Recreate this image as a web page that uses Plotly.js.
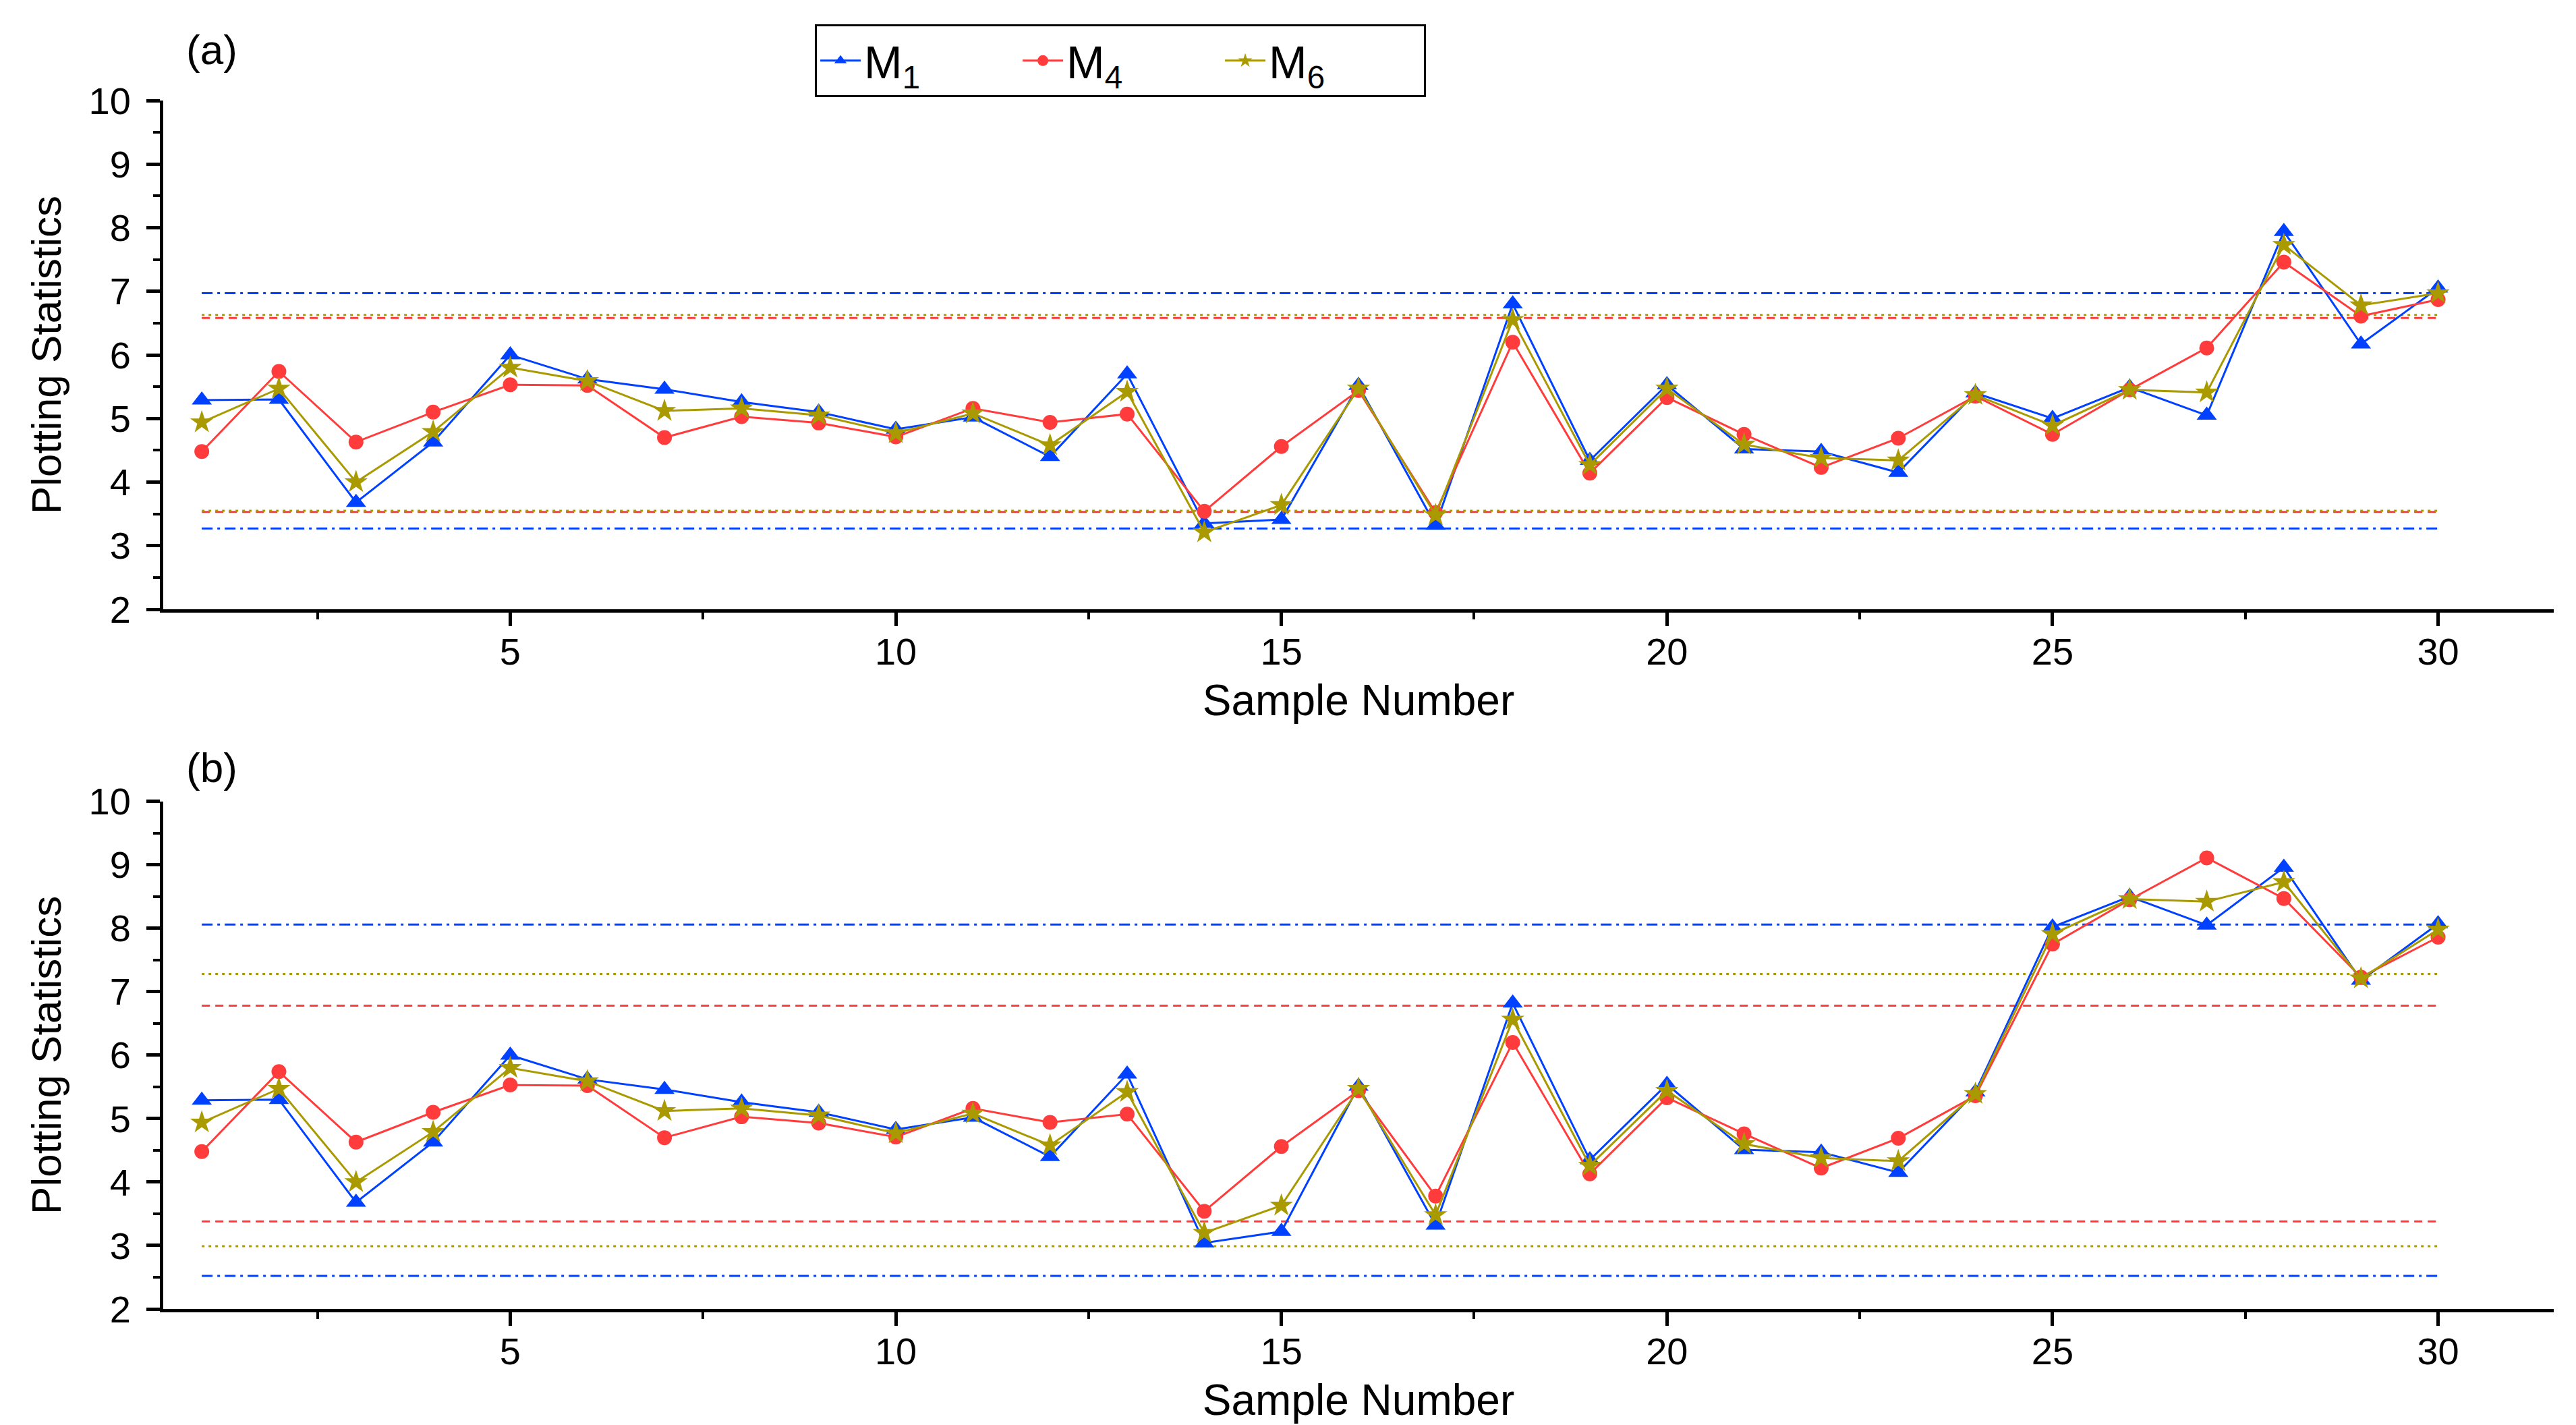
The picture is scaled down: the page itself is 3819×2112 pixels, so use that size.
<!DOCTYPE html>
<html>
<head>
<meta charset="utf-8">
<script src="https://cdn.plot.ly/plotly-3.0.1.min.js"></script>
<style>
  html, body { margin: 0; padding: 0; background: #fff; }
  #chart { width: 3819px; height: 2112px; }
</style>
</head>
<body>
<div id="chart"></div>
<script>
// sample numbers
const samples = [1,2,3,4,5,6,7,8,9,10,11,12,13,14,15,16,17,18,19,20,21,22,23,24,25,26,27,28,29,30];

// panel (a)
const m1A = [5.29,5.30,3.68,4.63,6.00,5.62,5.46,5.26,5.10,4.83,5.02,4.40,5.70,3.35,3.41,5.52,3.32,6.80,4.34,5.53,4.52,4.48,4.15,5.40,5.00,5.49,5.05,7.94,6.17,7.05];
const m4A = [4.48,5.74,4.63,5.10,5.53,5.52,4.70,5.03,4.93,4.71,5.16,4.94,5.07,3.54,4.56,5.44,3.52,6.20,4.14,5.33,4.75,4.23,4.69,5.35,4.75,5.45,6.11,7.46,6.61,6.87];
const m6A = [4.94,5.47,4.00,4.79,5.80,5.59,5.12,5.16,5.05,4.77,5.08,4.58,5.42,3.21,3.64,5.47,3.48,6.55,4.27,5.47,4.59,4.38,4.34,5.37,4.89,5.45,5.41,7.73,6.78,6.97];

// panel (b)
const m1B = [5.29,5.30,3.68,4.63,6.00,5.62,5.46,5.26,5.10,4.83,5.02,4.40,5.70,3.04,3.22,5.51,3.32,6.82,4.35,5.54,4.51,4.47,4.15,5.42,8.02,8.50,8.05,8.96,7.18,8.07];
const m4B = [4.48,5.74,4.63,5.10,5.53,5.52,4.70,5.03,4.93,4.71,5.16,4.94,5.07,3.54,4.56,5.44,3.78,6.20,4.13,5.33,4.76,4.22,4.69,5.36,7.75,8.45,9.11,8.47,7.23,7.86];
const m6B = [4.94,5.47,4.00,4.79,5.80,5.59,5.12,5.16,5.05,4.77,5.08,4.58,5.42,3.20,3.63,5.47,3.48,6.56,4.26,5.44,4.60,4.38,4.33,5.39,7.91,8.46,8.42,8.73,7.21,7.98];

// control limits, order M1, M4, M6
const limitX = [1, 30];
const lclA = [3.27, 3.53, 3.55];
const uclA = [6.97, 6.58, 6.63];
const lclB = [2.52, 3.38, 2.99];
const uclB = [8.06, 6.78, 7.28];

const names = ['M<sub>1</sub>', 'M<sub>4</sub>', 'M<sub>6</sub>'];
const colors = ['#0040FF', '#FF3B3B', '#A89A00'];
const symbols = ['triangle-up', 'circle', 'star'];
const markerSizes = [26, 22, 26];
const limitDash = ['16px,7px,4px,7px', '12px,8px', '4px,6px'];

const FONT = 'Liberation Sans, Arial, sans-serif';

const traces = [];

function addLimits(lcl, ucl, xa, ya) {
    for (let k = 0; k < 3; k++) {
        [lcl[k], ucl[k]].forEach(v => {
            traces.push({
                x: limitX, y: [v, v],
                xaxis: xa, yaxis: ya,
                type: 'scatter', mode: 'lines',
                line: { color: colors[k], width: 3, dash: limitDash[k] },
                showlegend: false, hoverinfo: 'skip'
            });
        });
    }
}

function addSeries(series, xa, ya, legend) {
    series.forEach((vals, k) => {
        traces.push({
            x: samples, y: vals,
            xaxis: xa, yaxis: ya,
            type: 'scatter', mode: 'lines+markers',
            name: names[k],
            line: { color: colors[k], width: 3 },
            marker: { color: colors[k], symbol: symbols[k], size: markerSizes[k] },
            showlegend: legend
        });
    });
}

addLimits(lclA, uclA, 'x', 'y');
addLimits(lclB, uclB, 'x2', 'y2');
addSeries([m1A, m4A, m6A], 'x', 'y', true);
addSeries([m1B, m4B, m6B], 'x2', 'y2', false);

function xAxis(anchor) {
    return {
        anchor: anchor,
        range: [0.5, 31.5],
        tickmode: 'linear', tick0: 0, dtick: 5,
        ticks: 'outside', ticklen: 20, tickwidth: 5, tickcolor: '#000',
        minor: { tickmode: 'linear', tick0: 2.5, dtick: 5, ticks: 'outside', ticklen: 10, tickwidth: 4, tickcolor: '#000' },
        showline: true, linewidth: 5, linecolor: '#000',
        showgrid: false, zeroline: false,
        tickfont: { family: FONT, size: 56, color: '#000' },
        ticklabelstandoff: -10,
        title: { text: 'Sample Number', font: { family: FONT, size: 64, color: '#000' }, standoff: 20 }
    };
}

function yAxis(anchor, domain) {
    return {
        anchor: anchor,
        domain: domain,
        range: [2, 10],
        tickmode: 'linear', tick0: 0, dtick: 1,
        ticks: 'outside', ticklen: 20, tickwidth: 5, tickcolor: '#000',
        minor: { tickmode: 'linear', tick0: 0.5, dtick: 0.5, ticks: 'outside', ticklen: 10, tickwidth: 4, tickcolor: '#000' },
        showline: true, linewidth: 5, linecolor: '#000',
        showgrid: false, zeroline: false,
        tickfont: { family: FONT, size: 56, color: '#000' },
        ticklabelstandoff: 12,
        title: { text: 'Plotting Statistics', font: { family: FONT, size: 62, color: '#000' }, standoff: 22 }
    };
}

const layout = {
    width: 3819, height: 2112,
    paper_bgcolor: '#fff', plot_bgcolor: '#fff',
    margin: { l: 242, r: 33, t: 149, b: 172 },
    font: { family: FONT, color: '#000' },
    xaxis: xAxis('y'),
    yaxis: yAxis('x', [0.579, 1]),
    xaxis2: xAxis('y2'),
    yaxis2: yAxis('x2', [0, 0.42]),
    showlegend: true,
    legend: {
        orientation: 'h',
        x: 0.2726, xanchor: 'left',
        y: 1.063, yanchor: 'top',
        bordercolor: '#000', borderwidth: 3,
        font: { family: FONT, size: 68, color: '#000' },
        entrywidth: 225, entrywidthmode: 'pixels',
        itemwidth: 60
    },
    annotations: [
        { text: '(a)', xref: 'paper', yref: 'paper', x: 0.009, y: 1.0424, xanchor: 'left', yanchor: 'middle', showarrow: false, font: { family: FONT, size: 62, color: '#000' } },
        { text: '(b)', xref: 'paper', yref: 'paper', x: 0.009, y: 0.4478, xanchor: 'left', yanchor: 'middle', showarrow: false, font: { family: FONT, size: 62, color: '#000' } }
    ]
};

Plotly.newPlot('chart', traces, layout, { displayModeBar: false, staticPlot: true });
</script>
</body>
</html>
